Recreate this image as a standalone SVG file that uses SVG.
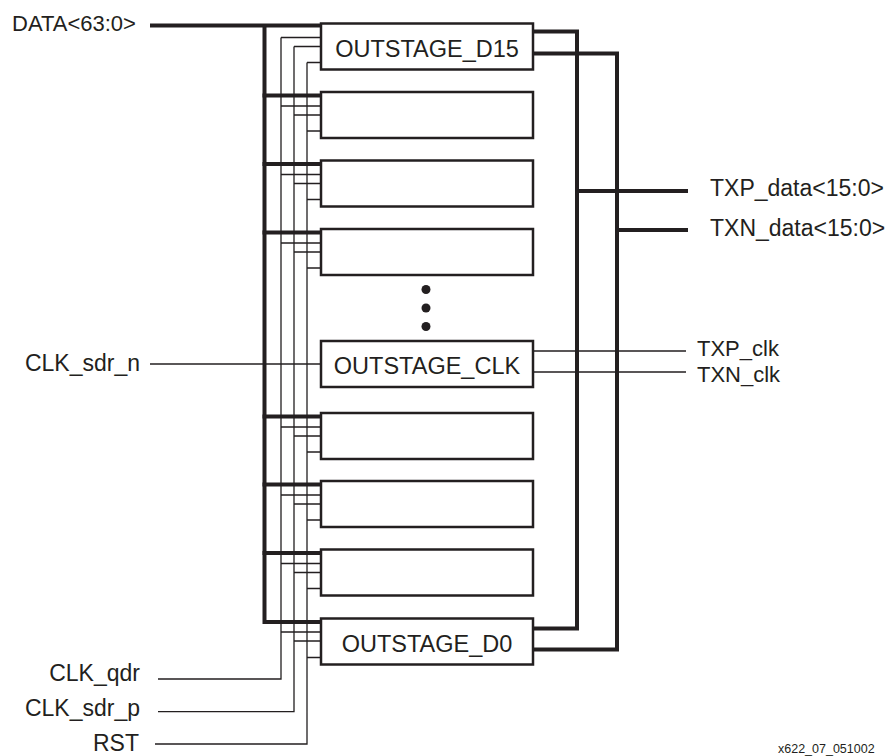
<svg xmlns="http://www.w3.org/2000/svg" width="894" height="756" viewBox="0 0 894 756">
<style>
.box{fill:#fff;stroke:#231f20;stroke-width:2.5}
.thick{fill:none;stroke:#231f20;stroke-width:4;stroke-linejoin:miter;stroke-linecap:square}
.thin{fill:none;stroke:#231f20;stroke-width:1.3}
.lbl{font-family:"Liberation Sans",Arial,sans-serif;font-size:23px;fill:#231f20}
.blbl{font-family:"Liberation Sans",Arial,sans-serif;font-size:23.5px;fill:#231f20;text-anchor:middle}
.end{text-anchor:end}
.tag{font-family:"Liberation Sans",Arial,sans-serif;font-size:12.5px;fill:#231f20}
</style>
<rect width="894" height="756" fill="#fff"/>
<g id="connectors">
  <path class="thick" d="M152 25.5 H321 M264.5 25.5 V622 H321"/>
  <path class="thick" d="M264.5 95.5 H321 M264.5 164 H321 M264.5 232.5 H321 M264.5 416.5 H321 M264.5 484.5 H321 M264.5 553 H321"/>
  <path class="thin" d="M281 37.5 V679 H158 M294 46.5 V711.7 H158 M307 62.5 V744 H155"/>
  <path class="thin" d="M281 37.5 H321 M294 46.5 H321 M307 62.5 H321"/>
  <path class="thin" d="M281 106 H321 M294 115 H321 M307 131 H321"/>
  <path class="thin" d="M281 174.5 H321 M294 183.5 H321 M307 199.5 H321"/>
  <path class="thin" d="M281 243 H321 M294 252 H321 M307 268 H321"/>
  <path class="thin" d="M281 427 H321 M294 436 H321 M307 452 H321"/>
  <path class="thin" d="M281 495 H321 M294 504 H321 M307 520 H321"/>
  <path class="thin" d="M281 563.5 H321 M294 572.5 H321 M307 588.5 H321"/>
  <path class="thin" d="M281 632 H321 M294 641 H321 M307 657.5 H321"/>
  <path class="thin" d="M150 364 H321"/>
  <path class="thick" d="M533 31.5 H577 V628.5 H533 M533 53.5 H617 V649.5 H533"/>
  <path class="thick" d="M577 191 H686 M617 230 H686"/>
  <path class="thin" d="M534 351 H686 M534 372 H686"/>
</g>
<g id="OUTSTAGE_D15"><rect class="box" x="321" y="23.5" width="212" height="46"/><text class="blbl" x="427" y="57">OUTSTAGE_D15</text></g>
<g id="stage14"><rect class="box" x="321" y="92" width="212" height="46"/></g>
<g id="stage13"><rect class="box" x="321" y="160.5" width="212" height="46"/></g>
<g id="stage12"><rect class="box" x="321" y="229" width="212" height="46"/></g>
<g id="ellipsis"><circle cx="426" cy="289.5" r="4.5" fill="#231f20"/><circle cx="426" cy="308" r="4.5" fill="#231f20"/><circle cx="426" cy="326.5" r="4.5" fill="#231f20"/></g>
<g id="OUTSTAGE_CLK"><rect class="box" x="321" y="341" width="212" height="46"/><text class="blbl" x="427" y="373.5">OUTSTAGE_CLK</text></g>
<g id="stage2"><rect class="box" x="321" y="413" width="212" height="46"/></g>
<g id="stage1"><rect class="box" x="321" y="481" width="212" height="46"/></g>
<g id="stage0b"><rect class="box" x="321" y="549.5" width="212" height="46"/></g>
<g id="OUTSTAGE_D0"><rect class="box" x="321" y="618.5" width="212" height="46"/><text class="blbl" x="427" y="651.5">OUTSTAGE_D0</text></g>
<g id="labels">
  <text class="lbl" x="12" y="31" style="font-size:22px">DATA&lt;63:0&gt;</text>
  <text class="lbl" x="710" y="196">TXP_data&lt;15:0&gt;</text>
  <text class="lbl" x="710" y="236">TXN_data&lt;15:0&gt;</text>
  <text class="lbl" x="697" y="356" style="font-size:22px">TXP_clk</text>
  <text class="lbl" x="697" y="382" style="font-size:22px">TXN_clk</text>
  <text class="lbl end" x="140" y="371">CLK_sdr_n</text>
  <text class="lbl end" x="140" y="681">CLK_qdr</text>
  <text class="lbl end" x="140" y="716">CLK_sdr_p</text>
  <text class="lbl end" x="139" y="751">RST</text>
  <text class="tag" x="778" y="753">x622_07_051002</text>
</g>
</svg>
